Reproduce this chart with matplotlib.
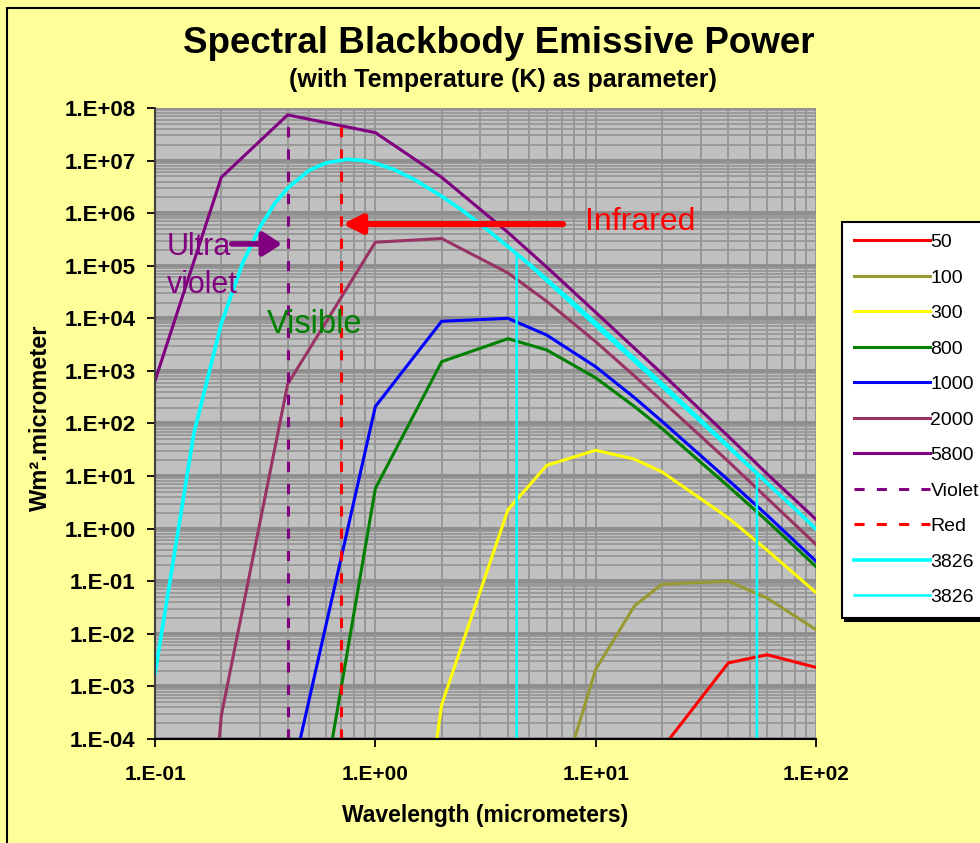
import numpy as np
import matplotlib.pyplot as plt
from matplotlib.patches import Rectangle
from matplotlib.ticker import LogLocator, NullFormatter

plt.rcParams['font.family'] = ['Liberation Sans', 'DejaVu Sans']

nan = np.nan

# wavelengths (micrometers) used by the temperature series
wavelength = [0.1, 0.2, 0.4, 1, 2, 4, 6, 10, 15, 20, 40, 60, 100]

# emissive power (W/m2.micrometer)
t50 = [nan, nan, nan, nan, nan, nan, nan, 1.2e-9, 2.3e-6, 6.6e-5, 2.8e-3, 4.0e-3, 2.3e-3]
t100 = [nan, nan, nan, nan, nan, nan, 1.9e-6, 2.1e-3, 3.4e-2, 8.8e-2, 1.0e-1, 4.8e-2, 1.2e-2]
t300 = [nan, nan, nan, 5.6e-13, 4.5e-4, 2.3e0, 1.6e1, 3.1e1, 2.1e1, 1.2e1, 1.6e0, 3.9e-1, 6.1e-2]
t800 = [nan, nan, 1.1e-9, 5.8e0, 1.5e3, 4.1e3, 2.5e3, 7.4e2, 2.1e2, 8.0e1, 6.4e0, 1.4e0, 1.9e-1]
t1000 = [nan, nan, 8.7e-6, 2.1e2, 8.8e3, 1.0e4, 4.8e3, 1.2e3, 3.1e2, 1.1e2, 8.4e0, 1.8e0, 2.4e-1]
t2000 = [2.2e-18, 2.8e-4, 5.6e2, 2.8e5, 3.3e5, 7.3e4, 2.1e4, 3.6e3, 8.0e2, 2.7e2, 1.9e1, 3.8e0, 5.0e-1]
t5800 = [6.5e2, 4.8e6, 7.4e7, 3.4e7, 4.8e6, 4.3e5, 9.4e4, 1.3e4, 2.7e3, 8.9e2, 5.7e1, 1.1e1, 1.5e0]

# 3826 K curve (finer wavelength grid)
wl_3826 = [0.1, 0.15, 0.2, 0.25, 0.3, 0.35, 0.4, 0.5, 0.6, 0.75, 0.9, 1.0, 1.2, 1.5, 2,
           2.5, 3, 4, 5, 6, 8, 10, 15, 20, 30, 40, 60, 80, 100]
t3826 = [1.75e-3, 6.4e1, 8.0e3, 1.13e5, 5.5e5, 1.54e6, 3.0e6, 6.5e6, 9.1e6, 1.06e7, 9.9e6,
         8.9e6, 6.9e6, 4.4e6, 2.1e6, 1.1e6, 6.2e5, 2.3e5, 1.07e5, 5.5e4, 1.9e4, 8.2e3,
         1.7e3, 5.7e2, 1.15e2, 3.7e1, 7.4e0, 2.4e0, 9.8e-1]

# 3826 K band markers
band_x = [4.38, 4.38, 53.9, 53.9]
band_y = [1e-4, 1.7e5, 11, 1e-4]

# visible limits
violet_x = [0.4, 0.4]
violet_y = [1e-4, 5e7]
red_x = [0.7, 0.7]
red_y = [1e-4, 6.5e7]

x_ticks = [0.1, 1, 10, 100]
x_tick_labels = ['1.E-01', '1.E+00', '1.E+01', '1.E+02']
y_ticks = [1e-4, 1e-3, 1e-2, 1e-1, 1e0, 1e1, 1e2, 1e3, 1e4, 1e5, 1e6, 1e7, 1e8]
y_tick_labels = ['1.E-04', '1.E-03', '1.E-02', '1.E-01', '1.E+00', '1.E+01', '1.E+02',
                 '1.E+03', '1.E+04', '1.E+05', '1.E+06', '1.E+07', '1.E+08']

fig = plt.figure(figsize=(9.8, 8.43), dpi=100, facecolor='#FFFF99')
ax = fig.add_axes([155 / 980, 1 - 739 / 843, (816 - 155) / 980, (739 - 108) / 843])
ax.set_facecolor('#C0C0C0')
ax.set_xscale('log')
ax.set_yscale('log')

# Series
lw = 2.2
ax.plot(wavelength, t50, color='#FF0000', lw=lw, label='50')
ax.plot(wavelength, t100, color='#999933', lw=lw, label='100')
ax.plot(wavelength, t300, color='#FFFF00', lw=lw, label='300')
ax.plot(wavelength, t800, color='#008000', lw=lw, label='800')
ax.plot(wavelength, t1000, color='#0000FF', lw=lw, label='1000')
ax.plot(wavelength, t2000, color='#993366', lw=lw, label='2000')
ax.plot(wavelength, t5800, color='#800080', lw=lw, label='5800')
ax.plot(violet_x, violet_y, color='#800080', lw=lw, dashes=(3.3, 4), label='Violet')
ax.plot(red_x, red_y, color='#FF0000', lw=lw, dashes=(3.3, 4), label='Red')
ax.plot(wl_3826, t3826, color='#00FFFF', lw=2.6, label='3826')
ax.plot(band_x, band_y, color='#00FFFF', lw=1.8, label='3826')

ax.set_xlim(0.1, 100)
ax.set_ylim(1e-4, 1e8)

# Ticks and grid
ax.set_xticks(x_ticks, x_tick_labels, fontweight='bold', fontsize=15)
ax.set_yticks(y_ticks, y_tick_labels, fontweight='bold', fontsize=16)
ax.xaxis.set_minor_locator(LogLocator(base=10, subs=np.arange(2, 10), numticks=20))
ax.yaxis.set_minor_locator(LogLocator(base=10, subs=np.arange(2, 10), numticks=20))
ax.xaxis.set_minor_formatter(NullFormatter())
ax.yaxis.set_minor_formatter(NullFormatter())
ax.tick_params(which='major', direction='out', length=6, width=1.3)
ax.tick_params(axis='y', which='major', pad=8)
ax.tick_params(axis='x', which='major', pad=13)
ax.tick_params(which='minor', length=0)
ax.set_axisbelow(True)
ax.grid(True, which='major', axis='y', color='#8E8E8E', lw=2.8)
ax.grid(True, which='minor', axis='y', color='#969696', lw=1.3)
ax.grid(True, which='both', axis='x', color='#969696', lw=1.4)
for s in ['top', 'right']:
    ax.spines[s].set_visible(False)
ax.spines['left'].set_color('#404040')
ax.spines['left'].set_linewidth(1.5)
ax.spines['bottom'].set_linewidth(1.5)

# Annotations
ax.annotate('', xy=(0.71, 6.2e5), xytext=(7.1, 6.2e5),
            arrowprops=dict(arrowstyle='-|>,head_length=0.7,head_width=0.35', color='#FF0000',
                            lw=4.5, mutation_scale=16, shrinkA=0, shrinkB=0))
ax.text(8.9, 6.8e5, 'Infrared', color='#FF0000', fontsize=23, ha='left', va='center')
ax.annotate('', xy=(0.377, 2.6e5), xytext=(0.223, 2.6e5),
            arrowprops=dict(arrowstyle='-|>,head_length=0.7,head_width=0.45', color='#800080',
                            lw=4, mutation_scale=16, shrinkA=0, shrinkB=0))
ax.text(0.1134, 2.27e5, 'Ultra', color='#800080', fontsize=22, ha='left', va='center')
ax.text(0.1134, 4.3e4, 'violet', color='#800080', fontsize=22, ha='left', va='center')
ax.text(0.322, 7.5e3, 'Visible', color='#008000', fontsize=23.5, ha='left', va='center')

# Titles and labels
fig.text(0.509, 0.948, 'Spectral Blackbody Emissive Power', fontsize=26.5, fontweight='bold',
         ha='center', va='center')
fig.text(0.513, 0.905, '(with Temperature (K) as parameter)', fontsize=18, fontweight='bold',
         ha='center', va='center')
fig.text(0.495, 0.033, 'Wavelength (micrometers)', fontsize=16.5, fontweight='bold',
         ha='center', va='center')
fig.text(0.041, 0.504, 'Wm\u00b2.micrometer', fontsize=17, fontweight='bold', rotation=90,
         ha='center', va='center')

# Legend
leg = fig.legend(loc='upper left', bbox_to_anchor=(842 / 980, 1 - 222 / 843),
                 bbox_transform=fig.transFigure, fontsize=14, frameon=True, fancybox=False,
                 edgecolor='black', facecolor='white', framealpha=1,
                 shadow={'facecolor': 'black', 'edgecolor': 'black', 'alpha': 1},
                 borderaxespad=0, borderpad=0.6, handlelength=3.9, handletextpad=0.05,
                 labelspacing=0.92)
leg.get_frame().set_linewidth(1.5)

# outer chart border
fig.patches.append(Rectangle((7 / 980, -0.1), 1.2, 1.1 - 8 / 843, transform=fig.transFigure,
                             fill=False, edgecolor='black', lw=1.5))

plt.savefig('out.png', dpi=100, facecolor=fig.get_facecolor())
